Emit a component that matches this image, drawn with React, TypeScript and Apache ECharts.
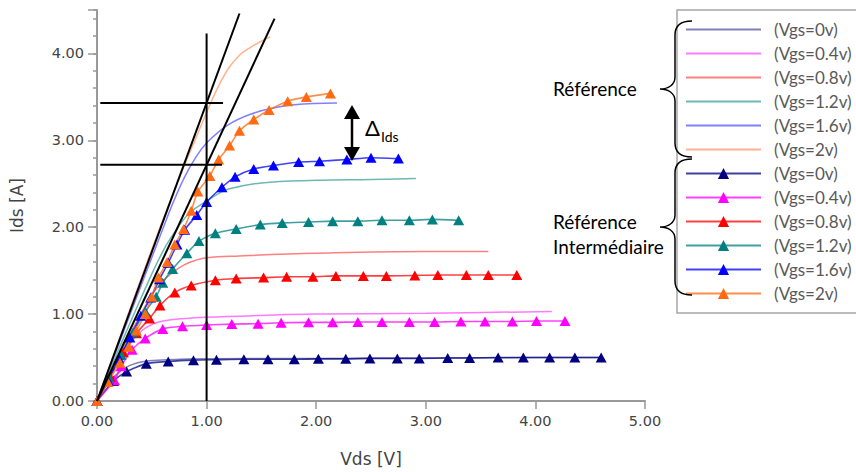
import React, { useEffect, useRef } from "react";
import * as echarts from "echarts";

// ---- Data (Vds [V], Ids [A]) ----
const refNames = ["(Vgs=0v)", "(Vgs=0.4v)", "(Vgs=0.8v)", "(Vgs=1.2v)", "(Vgs=1.6v)", "(Vgs=2v)"];

const ref0 = [[0,0],[0.1,0.2],[0.2,0.33],[0.3,0.41],[0.45,0.46],[0.65,0.475],[1.0,0.485],[2.0,0.49],[3.0,0.495],[4.0,0.5],[4.6,0.5]];
const ref04 = [[0,0],[0.1,0.24],[0.2,0.47],[0.3,0.66],[0.4,0.8],[0.5,0.88],[0.6,0.92],[0.8,0.95],[1.0,0.965],[1.5,0.985],[2.0,1.0],[3.0,1.01],[4.15,1.03]];
const ref08 = [[0,0],[0.2,0.52],[0.4,1.0],[0.5,1.22],[0.6,1.38],[0.7,1.49],[0.8,1.57],[0.9,1.62],[1.0,1.65],[1.3,1.67],[2.0,1.7],[3.0,1.72],[3.57,1.72]];
const ref12 = [[0,0],[0.2,0.6],[0.4,1.18],[0.6,1.72],[0.75,2.02],[0.85,2.17],[1.0,2.3],[1.1,2.38],[1.2,2.44],[1.5,2.51],[2.0,2.54],[2.5,2.55],[2.91,2.56]];
const ref16 = [[0,0],[0.2,0.66],[0.4,1.32],[0.6,1.98],[0.7,2.3],[0.8,2.58],[0.9,2.8],[1.0,2.97],[1.2,3.18],[1.4,3.3],[1.6,3.37],[1.8,3.41],[2.19,3.43]];
const ref20 = [[0,0],[0.2,0.7],[0.4,1.4],[0.6,2.08],[0.8,2.72],[0.9,3.02],[1.0,3.32],[1.1,3.6],[1.2,3.83],[1.3,3.98],[1.4,4.07],[1.5,4.14],[1.58,4.19]];

const int0 = [[0,0],[0.15,0.23],[0.27,0.34],[0.45,0.43],[0.65,0.455],[0.88,0.47],[1.09,0.475],[1.34,0.48],[1.56,0.48],[1.8,0.48],[2.02,0.485],[2.27,0.485],[2.49,0.49],[2.74,0.49],[2.94,0.49],[3.2,0.495],[3.4,0.495],[3.66,0.5],[3.89,0.5],[4.13,0.5],[4.36,0.5],[4.6,0.5]];
const int04 = [[0,0],[0.16,0.24],[0.22,0.4],[0.32,0.59],[0.44,0.72],[0.6,0.83],[0.78,0.86],[1.0,0.875],[1.23,0.885],[1.47,0.89],[1.68,0.9],[1.93,0.905],[2.15,0.905],[2.38,0.91],[2.6,0.91],[2.85,0.91],[3.08,0.91],[3.32,0.915],[3.54,0.915],[3.79,0.915],[4.01,0.92],[4.27,0.92]];
const int08 = [[0,0],[0.12,0.28],[0.24,0.56],[0.36,0.78],[0.48,0.95],[0.575,1.1],[0.71,1.25],[0.86,1.33],[1.08,1.39],[1.27,1.41],[1.52,1.42],[1.73,1.43],[1.97,1.43],[2.18,1.44],[2.43,1.44],[2.64,1.44],[2.9,1.445],[3.11,1.45],[3.37,1.45],[3.57,1.45],[3.83,1.45]];
const int12 = [[0,0],[0.11,0.27],[0.22,0.53],[0.33,0.79],[0.44,1.03],[0.54,1.2],[0.6,1.36],[0.69,1.52],[0.82,1.7],[0.93,1.84],[1.08,1.93],[1.27,1.98],[1.49,2.03],[1.69,2.05],[1.93,2.06],[2.15,2.07],[2.38,2.07],[2.6,2.08],[2.85,2.08],[3.06,2.09],[3.3,2.08]];
const int16 = [[0,0],[0.1,0.24],[0.2,0.49],[0.3,0.73],[0.4,0.98],[0.49,1.19],[0.57,1.4],[0.65,1.59],[0.73,1.8],[0.8,1.97],[0.91,2.14],[1.0,2.29],[1.14,2.46],[1.26,2.58],[1.43,2.67],[1.61,2.71],[1.84,2.75],[2.03,2.76],[2.28,2.78],[2.5,2.8],[2.75,2.79]];
const int20 = [[0,0],[0.1,0.22],[0.21,0.44],[0.29,0.625],[0.36,0.81],[0.44,1.0],[0.5,1.2],[0.56,1.42],[0.64,1.6],[0.71,1.8],[0.79,1.98],[0.86,2.19],[0.92,2.41],[1.03,2.59],[1.11,2.78],[1.21,2.94],[1.3,3.11],[1.43,3.24],[1.57,3.35],[1.74,3.45],[1.91,3.5],[2.13,3.54]];

// annotation lines
const vLine = [[1, 0], [1, 4.23]];
const hLineTop = [[0.03, 3.43], [1.15, 3.43]];
const hLineBottom = [[0.03, 2.72], [1.14, 2.72]];
const slopeTop = [[0, 0], [1.3, 4.46]];
const slopeBottom = [[0, 0], [1.62, 4.4]];

const xTicks = [0, 1, 2, 3, 4, 5];

const refData = [ref0, ref04, ref08, ref12, ref16, ref20];
const intData = [int0, int04, int08, int12, int16, int20];
const refColors = ["#7272b4", "#ff6cff", "#ff7272", "#5cb0aa", "#7272ff", "#ffaa80"];
const intColors = ["#000080", "#ff00ff", "#ff0000", "#008080", "#0000ff", "#ff6a13"];

const bracePath =
  "M32,0 C22,0 15,4 15,14 L15,56 C15,64 8,68 0,68 C8,68 15,72 15,80 L15,122 C15,132 22,136 32,136";
echarts.graphic.registerShape("brace", echarts.graphic.extendPath(bracePath, {}));

export default function App() {
  const ref = useRef<HTMLDivElement>(null);
  useEffect(() => {
    if (!ref.current) return;
    const chart = echarts.init(ref.current, null, { renderer: "svg" });
    const labelMap: Record<string, string> = {};
    const series: any[] = [];
    refData.forEach((d, k) => {
      const id = "ref_" + k;
      labelMap[id] = refNames[k];
      series.push({
        name: id,
        type: "line",
        data: d,
        smooth: 0.4,
        symbol: "none",
        lineStyle: { color: refColors[k], width: 1.5, opacity: 0.9 },
        itemStyle: { color: refColors[k] },
        z: 2,
      });
    });
    intData.forEach((d, k) => {
      const id = "int_" + k;
      labelMap[id] = refNames[k];
      series.push({
        name: id,
        type: "line",
        data: d,
        smooth: 0.2,
        symbol: "triangle",
        symbolSize: [11, 10],
        lineStyle: { color: intColors[k], width: 1.6, opacity: 0.75 },
        itemStyle: { color: intColors[k], borderColor: intColors[k], borderWidth: 0 },
        z: 3,
      });
    });
    [vLine, hLineTop, hLineBottom, slopeTop, slopeBottom].forEach((d, k) => {
      series.push({
        name: "annot_" + k,
        type: "line",
        data: d,
        symbol: "none",
        silent: true,
        lineStyle: { color: "#000", width: 2 },
        z: 5,
      });
    });

    const legendData = [
      ...refData.map((_, k) => ({ name: "ref_" + k, itemStyle: { opacity: 0 } })),
      ...intData.map((_, k) => ({ name: "int_" + k })),
    ];

    chart.setOption({
      animation: false,
      backgroundColor: "#fff",
      grid: { left: 97, right: 211, top: 10, bottom: 67 },
      xAxis: {
        type: "value",
        min: 0,
        max: 5,
        interval: 1,
        name: "Vds [V]",
        nameLocation: "middle",
        nameGap: 49,
        nameTextStyle: { fontFamily: "DejaVu Sans", fontSize: 17, color: "#444" },
        axisLine: { lineStyle: { color: "#999", width: 2 } },
        axisTick: { show: true, length: 8, lineStyle: { color: "#999", width: 1.5 } },
        axisLabel: {
          margin: 12,
          fontFamily: "DejaVu Sans",
          fontSize: 14.5,
          color: "#444",
          formatter: (v: number) => (xTicks.includes(v) ? v.toFixed(2) : ""),
        },
        splitLine: { show: false },
      },
      yAxis: [
        {
          type: "value",
          min: 0,
          max: 4.5,
          interval: 1,
          name: "Ids [A]",
          nameLocation: "middle",
          nameGap: 72,
          nameTextStyle: { fontFamily: "DejaVu Sans", fontSize: 17, color: "#444" },
          axisLine: { show: true, lineStyle: { color: "#999", width: 2 } },
          axisTick: { show: true, length: 9, lineStyle: { color: "#999", width: 1.5 } },
          axisLabel: {
            margin: 13,
            fontFamily: "DejaVu Sans",
            fontSize: 14.5,
            color: "#444",
            formatter: (v: number) => (Number.isInteger(v) ? v.toFixed(2) : ""),
          },
          splitLine: { show: false },
        },
        {
          type: "value",
          position: "left",
          min: 0,
          max: 4.5,
          interval: 0.2,
          axisLine: { show: false },
          axisTick: { show: true, length: 4, lineStyle: { color: "#999", width: 1.5 } },
          axisLabel: { show: false },
          splitLine: { show: false },
        },
      ],
      legend: {
        data: legendData,
        orient: "vertical",
        left: 685,
        top: 21,
        padding: 0,
        itemWidth: 75,
        itemHeight: 14,
        itemGap: 7,
        formatter: (name: string) => labelMap[name] || name,
        textStyle: { fontFamily: "Lato", fontSize: 17, color: "#595959", lineHeight: 14, padding: [0, 0, 0, 8] },
        selectedMode: false,
      },
      graphic: [
        { type: "rect", shape: { x: 677, y: 10, width: 220, height: 303 }, style: { fill: "none", stroke: "#a6a6a6", lineWidth: 1.5 }, z: 100 },
        { type: "brace", x: 660, y: 21, style: { fill: "none", stroke: "#000", lineWidth: 1.5 }, z: 100 },
        { type: "brace", x: 660, y: 159, style: { fill: "none", stroke: "#000", lineWidth: 1.5 }, z: 100 },
        { type: "text", x: 553, y: 88, style: { text: "Référence", fontFamily: "Lato", fontSize: 19, fill: "#000", verticalAlign: "middle" }, z: 100 },
        { type: "text", x: 553, y: 221, style: { text: "Référence", fontFamily: "Lato", fontSize: 19, fill: "#000", verticalAlign: "middle" }, z: 100 },
        { type: "text", x: 553, y: 246, style: { text: "Intermédiaire", fontFamily: "Lato", fontSize: 19, fill: "#000", verticalAlign: "middle" }, z: 100 },
        { type: "line", shape: { x1: 352, y1: 114, x2: 352, y2: 152 }, style: { stroke: "#000", lineWidth: 2.5 }, z: 100 },
        { type: "polygon", shape: { points: [[344, 119], [360, 119], [352, 105]] }, style: { fill: "#000" }, z: 100 },
        { type: "polygon", shape: { points: [[344, 147], [360, 147], [352, 161]] }, style: { fill: "#000" }, z: 100 },
        { type: "text", x: 365, y: 138, style: { text: "Δ", fontFamily: "Lato", fontSize: 22, fill: "#000", verticalAlign: "bottom" }, z: 100 },
        { type: "text", x: 381, y: 143, style: { text: "Ids", fontFamily: "Lato", fontSize: 14, fill: "#000", verticalAlign: "bottom" }, z: 100 },
      ],
      series,
    });
    return () => chart.dispose();
  }, []);
  return <div ref={ref} style={{ position: "fixed", left: 0, top: 0, width: 856, height: 472 }} />;
}
